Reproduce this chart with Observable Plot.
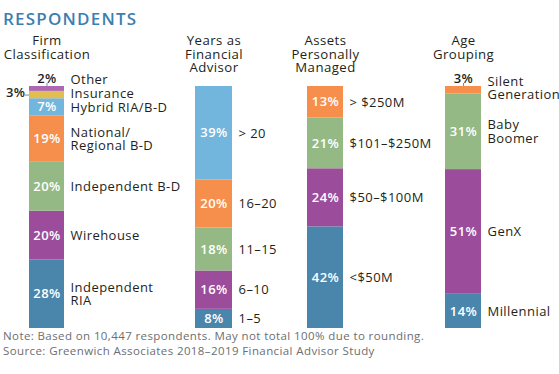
<!DOCTYPE html>
<html><head><meta charset="utf-8">
<script src="https://cdn.jsdelivr.net/npm/d3@7"></script>
<script src="https://cdn.jsdelivr.net/npm/@observablehq/plot@0.6"></script>
<style>
body{margin:0;background:#fff;font-family:"Open Sans",sans-serif;}
#wrap{position:relative;width:559px;height:374px;overflow:hidden;background:#fff}
#title{position:absolute;left:3px;top:10px;font-size:17px;line-height:17px;font-weight:600;color:#3b7fae;letter-spacing:1.2px;white-space:nowrap}
#note{position:absolute;left:3px;top:328px;font-size:11.5px;line-height:15px;color:#6d6e71;letter-spacing:0.4px;white-space:nowrap}
#wrap svg{position:absolute;left:0;top:0}
</style></head><body>
<div id="wrap">
<div id="title">RESPONDENTS</div>
<div id="note">Note: Based on 10,447 respondents. May not total 100% due to rounding.<br>Source: Greenwich Associates 2018–2019 Financial Advisor Study</div>
</div>
<script>
// colours by stacking position (bottom first)
const palette = ["#4a86ab", "#9b4c9b", "#94b984", "#f68f4c", "#72b5dd", "#e2be4f", "#ad68b0"];

// headers
const headers = ["Firm\nClassification", "Years as\nFinancial\nAdvisor", "Assets\nPersonally\nManaged", "Age\nGrouping"];

// Firm Classification (bottom to top)
const firmCategories = ["Independent\nRIA", "Wirehouse", "Independent B-D", "National/\nRegional B-D", "Hybrid RIA/B-D", "Insurance", "Other"];
const firmValues = [28, 20, 20, 19, 7, 3, 2];

// Years as Financial Advisor
const yearsCategories = ["1–5", "6–10", "11–15", "16–20", "> 20"];
const yearsValues = [8, 16, 18, 20, 39];

// Assets Personally Managed
const assetsCategories = ["<$50M", "$50–$100M", "$101–$250M", "> $250M"];
const assetsValues = [42, 24, 21, 13];

// Age Grouping
const ageCategories = ["Millennial", "GenX", "Baby\nBoomer", "Silent\nGeneration"];
const ageValues = [14, 51, 31, 3];

const W = 559, H = 374, TOP = 86, BOTTOM = 328;
const ink = "#231f20";

const columns = [
  {key: "firm", header: headers[0], cats: firmCategories, vals: firmValues, left: 29, right: 64,
   outside: {"Other": "top", "Insurance": "left"}, shift: {"Other": -9, "Insurance": -1}},
  {key: "years", header: headers[1], cats: yearsCategories, vals: yearsValues, left: 195, right: 232, outside: {}, shift: {}},
  {key: "assets", header: headers[2], cats: assetsCategories, vals: assetsValues, left: 307, right: 343, outside: {}, shift: {}},
  {key: "age", header: headers[3], cats: ageCategories, vals: ageValues, left: 445, right: 481,
   outside: {"Silent\nGeneration": "top"}, shift: {"Silent\nGeneration": -2}}
];

function column(c) {
  const data = c.cats.map((cat, i) => ({group: c.key, cat, value: c.vals[i], color: palette[i]}));
  const half = (c.right - c.left) / 2;
  const stack = (o) => Plot.stackY({x: "group", y: "value", offset: "normalize", ...o});
  const stack2 = (o) => Plot.stackY2({x: "group", y: "value", offset: "normalize", ...o});
  const pct = d => `${d.value}%`;
  const place = d => c.outside[d.cat] || "inside";
  const shiftVals = [...new Set(Object.values(c.shift))];
  const topStack = stack2({stroke: "#8a8a8a", strokeWidth: 1, insetTop: -3,
    strokeOpacity: d => place(d) === "top" ? 1 : 0});
  const marks = [
    Plot.barY(data, stack({fill: "color"})),
    // inside percentages
    Plot.text(data, stack({text: d => place(d) === "inside" ? pct(d) : null, fill: "white",
      fontSize: 13, fontWeight: 600})),
    // percentages above the bar, with a short leader
    Plot.text(data, stack2({text: d => place(d) === "top" ? pct(d) : null, fill: ink,
      fontSize: 13, fontWeight: 600, dy: -8})),
    Plot.ruleX(data, {...topStack, y: undefined, y1: topStack.y, y2: topStack.y}),
    // percentages left of the bar, with a short leader
    Plot.text(data, stack({text: d => place(d) === "left" ? pct(d) : null, fill: ink,
      fontSize: 13, fontWeight: 600, dx: -half - 4, dy: -2, textAnchor: "end"})),
    Plot.tickY(data, stack({stroke: "#8a8a8a", strokeWidth: 1, insetLeft: -4, insetRight: c.right - c.left,
      strokeOpacity: d => place(d) === "left" ? 1 : 0})),
    // category labels
    Plot.text(data, stack({text: d => c.shift[d.cat] === undefined ? d.cat : null, fill: ink,
      fontSize: 13, lineHeight: 1.04, dx: half + 6, textAnchor: "start"})),
    ...shiftVals.map(s => Plot.text(data, stack({text: d => c.shift[d.cat] === s ? d.cat : null, fill: ink,
      fontSize: 13, lineHeight: 1.04, dx: half + 6, dy: s, textAnchor: "start"}))),
    // header
    Plot.text([c.header], {x: () => c.key, text: d => d, frameAnchor: "top", lineAnchor: "top",
      dy: -(TOP - 35), fontSize: 13.2, lineHeight: 1.03, fill: ink})
  ];
  return Plot.plot({
    width: W, height: H,
    marginLeft: c.left, marginRight: W - c.right, marginTop: TOP, marginBottom: H - BOTTOM,
    x: {type: "band", domain: [c.key], padding: 0, axis: null},
    y: {domain: [0, 1], axis: null},
    color: {type: "identity"},
    opacity: {domain: [0, 1], range: [0, 1]},
    style: {background: "transparent", overflow: "visible", fontFamily: "Open Sans, sans-serif", letterSpacing: "0.45px"},
    marks
  });
}

const wrap = document.getElementById("wrap");
for (const c of columns) wrap.appendChild(column(c));
</script>
</body></html>
